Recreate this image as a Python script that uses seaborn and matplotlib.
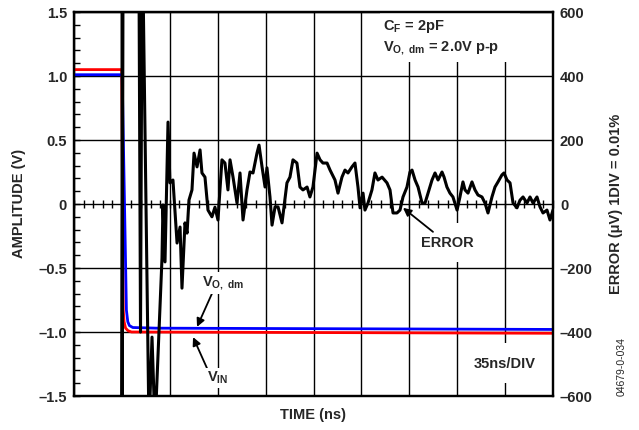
import numpy as np
import matplotlib
matplotlib.use('Agg')
import matplotlib.pyplot as plt
import seaborn as sns

# ── Data ──────────────────────────────────────────────────────────────────────

# input step, V
vin_t = [0, 34.9, 36.0, 36.6, 37.7, 39.5, 42.0, 200, 350]
vin_v = [1.05, 1.05, -0.83, -0.92, -0.97, -0.99, -1.00, -1.005, -1.01]

# differential output, V
vout_t = [0, 35.2, 38.3, 39.3, 40.5, 43.0, 60, 350]
vout_v = [1.01, 1.01, -0.83, -0.92, -0.95, -0.965, -0.97, -0.98]

# settling error, uV (values past +/-600 are off screen)
err_t = [35.1, 35.1, 35.8, 47.5, 48.6, 49.7, 50.4, 54.8, 57.0, 59.2,
         64.3, 65.0, 66.5, 68.7, 70.1, 72.3, 75.3, 77.5, 78.9, 81.1,
         82.6, 84.0, 86.2, 87.7, 89.9, 92.1, 93.5, 95.7, 97.9, 100.8,
         103.0, 105.2, 108.1, 110.3, 112.5, 114.0, 116.2, 119.1, 121.3, 123.5,
         126.4, 128.6, 130.8, 133.7, 135.2, 137.4, 139.6, 141.0, 143.2, 144.7,
         146.9, 149.1, 152.0, 155.6, 157.8, 160.0, 162.9, 165.1, 167.3, 170.3,
         172.4, 174.6, 177.6, 179.8, 181.9, 184.9, 187.1, 190.7, 192.9, 195.8,
         198.0, 200.2, 203.1, 205.3, 207.5, 209.0, 211.2, 212.6, 214.8, 217.7,
         219.9, 222.1, 225.1, 228.7, 230.9, 233.1, 236.0, 238.2, 240.4, 243.3,
         245.5, 247.0, 249.2, 251.4, 254.3, 256.5, 258.7, 261.6, 263.8, 266.0,
         268.9, 270.4, 272.5, 274.7, 276.9, 279.9, 282.0, 284.2, 285.7, 287.9,
         290.8, 293.0, 295.2, 298.1, 300.3, 302.5, 305.4, 307.6, 309.8, 312.7,
         314.2, 316.4, 318.6, 320.8, 323.7, 325.9, 328.1, 331.0, 333.2, 335.4,
         338.3, 340.5, 342.7, 345.6, 347.8, 350.0]
err_uv = [700, -700, 700, 700, -400, 700, 700, -700, -416, -700,
          -169, -3, -181, 256, 66, 75, -122, -72, -263, -59,
          -91, 12, 44, 159, 116, 169, 97, 84, -19, -40,
          -10, -50, 138, 128, 44, 138, 84, 3, 97, -50,
          44, 100, 97, 159, 184, 116, 53, 113, 22, -66,
          -9, -9, -59, 66, 84, 138, 128, 53, 44, 53,
          22, 53, 159, 138, 128, 128, 106, 75, 34, 84,
          106, 97, 116, 128, 53, -12, 34, -19, 3, 44,
          97, 75, 84, 66, 44, -28, -28, -19, 22, 53,
          100, 106, 75, 53, 3, 3, 34, 75, 97, 75,
          100, 84, 53, 34, 22, -19, 22, 69, 44, 34,
          69, 44, 28, 22, 3, -28, 22, 53, 69, 91,
          97, 75, 66, 3, -12, 12, 22, 3, 22, 3,
          22, -9, -28, -19, -50, -19]

left_ticks = [1.5, 1.0, 0.5, 0, -0.5, -1.0, -1.5]
left_labels = ['1.5', '1.0', '0.5', '0', '\u20130.5', '\u20131.0', '\u20131.5']
right_ticks = [600, 400, 200, 0, -200, -400, -600]
right_labels = ['600', '400', '200', '0', '\u2013200', '\u2013400', '\u2013600']

# ── Style ─────────────────────────────────────────────────────────────────────

sns.set_theme(style='white')
plt.rcParams['font.family'] = ['Liberation Sans', 'DejaVu Sans']
plt.rcParams['font.weight'] = 'bold'
plt.rcParams['mathtext.fontset'] = 'custom'
plt.rcParams['mathtext.rm'] = 'Liberation Sans:bold'
plt.rcParams['mathtext.it'] = 'Liberation Sans:bold'
plt.rcParams['mathtext.bf'] = 'Liberation Sans:bold'

FS = 10.5

fig = plt.figure(figsize=(6.39, 4.30), dpi=100)
ax = fig.add_axes([74/639, 34/430, 479/639, 384/430])

# ── Traces ────────────────────────────────────────────────────────────────────

sns.lineplot(x=vin_t, y=vin_v, color='#ff0000', lw=2.0,
             estimator=None, sort=False, ax=ax)
sns.lineplot(x=vout_t, y=vout_v, color='#0000ff', lw=2.0,
             estimator=None, sort=False, ax=ax)

ax.set_xlim(0, 350)
ax.set_ylim(-1.5, 1.5)
ax.set_xticks(np.arange(0, 351, 35))
ax.set_xticklabels([])
ax.set_yticks(left_ticks)
ax.set_yticklabels(left_labels, fontsize=FS, fontweight='bold')
ax.set_yticks(np.arange(-1.5, 1.51, 0.1), minor=True)
ax.tick_params(axis='x', length=0)
ax.tick_params(axis='y', which='both', direction='in', length=4, width=1,
               color='black', pad=5, left=True)
ax.grid(True, which='major', color='black', lw=1)
ax.set_xlabel('')
ax.set_ylabel('')
for s in ax.spines.values():
    s.set_color('black')
    s.set_linewidth(1.6)

# white areas behind the labels (grid is broken there)
for x0, y0, w, h in [(0.639, 0.870, 0.292, 0.130),
                     (0.722, 0.349, 0.126, 0.102),
                     (0.823, 0.034, 0.150, 0.104)]:
    ax.add_patch(plt.Rectangle((x0, y0), w, h, transform=ax.transAxes,
                               facecolor='white', edgecolor='none', zorder=1))

# small ticks along the centre line
sec = ax.secondary_xaxis(0.5)
sec.set_xticks(np.arange(0, 351, 7))
sec.tick_params(direction='inout', length=6, width=1, color='black',
                labelbottom=False, labeltop=False)
sec.spines['bottom'].set_visible(False)
sec.spines['top'].set_visible(False)

ax2 = ax.twinx()
sns.lineplot(x=err_t, y=err_uv, color='black', lw=2.2,
             estimator=None, sort=False, ax=ax2)
ax2.set_ylim(-600, 600)
ax2.set_yticks(right_ticks)
ax2.set_yticklabels(right_labels, fontsize=FS, fontweight='bold')
ax2.tick_params(axis='y', length=0, pad=5)
ax2.set_ylabel('')
ax2.grid(False)
for s in ax2.spines.values():
    s.set_color('black')
    s.set_linewidth(1.6)

# ── Labels & annotations ──────────────────────────────────────────────────────

box = dict(facecolor='white', edgecolor='none', pad=1.5)
arrow = dict(arrowstyle='-|>', color='black', lw=1.3,
             mutation_scale=12, shrinkA=0, shrinkB=0)

ax2.text(0.645, 0.985, r'C$_\mathregular{F}$ = 2pF', transform=ax.transAxes,
         fontsize=FS, fontweight='bold', va='top', ha='left')
ax2.text(0.645, 0.927, r'V$_\mathregular{O,\ dm}$ = 2.0V p-p', transform=ax.transAxes,
         fontsize=FS, fontweight='bold', va='top', ha='left')

ax2.text(0.724, 0.398, 'ERROR', transform=ax.transAxes, fontsize=FS,
         fontweight='bold', va='center', ha='left')
ax2.annotate('', xy=(240.4, -12), xytext=(262.3, -87), arrowprops=arrow)

ax2.text(0.267, 0.294, r'V$_\mathregular{O,\ dm}$', transform=ax.transAxes,
         fontsize=FS, fontweight='bold', va='center', ha='left', bbox=box)
ax.annotate('', xy=(89.9, -0.96), xytext=(100.8, -0.70), arrowprops=arrow)

ax2.text(0.278, 0.047, r'V$_\mathregular{IN}$', transform=ax.transAxes,
         fontsize=FS, fontweight='bold', va='center', ha='left', bbox=box)
ax.annotate('', xy=(87.0, -1.04), xytext=(97.9, -1.30), arrowprops=arrow)

ax2.text(0.899, 0.083, '35ns/DIV', transform=ax.transAxes, fontsize=FS,
         fontweight='bold', va='center', ha='center')

fig.text(0.030, 0.526, 'AMPLITUDE (V)', rotation=90, fontsize=FS,
         fontweight='bold', va='center', ha='center')
fig.text(0.964, 0.526, 'ERROR (\u03bcV) 1DIV = 0.01%', rotation=90, fontsize=FS,
         fontweight='bold', va='center', ha='center')
fig.text(313/639, 0.035, 'TIME (ns)', fontsize=FS, fontweight='bold',
         va='center', ha='center')
fig.text(0.973, 0.147, '04679-0-034', rotation=90, fontsize=7.5,
         fontweight='normal', va='center', ha='center')

fig.savefig('out.png', dpi=100)
